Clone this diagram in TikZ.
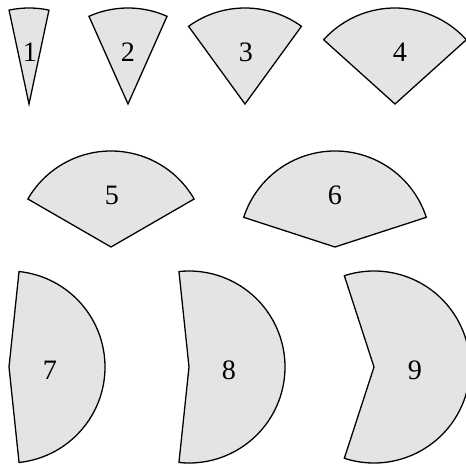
\documentclass[tikz,border=0pt]{standalone}
\usepackage{fontspec}
\setmainfont{Liberation Serif}
\usetikzlibrary{calc}

\definecolor{sectorgray}{HTML}{E4E4E4}

\begin{document}
\begin{tikzpicture}[x=0.03cm, y=0.03cm,
    sector/.style={draw=black, line width=1.1pt, fill=sectorgray, line join=miter},
    num/.style={font=\fontsize{24}{28}\selectfont, inner sep=0pt}]
    \useasboundingbox (0,0) rectangle (465,466);

    % sectors: apex x, apex y, axis direction, opening angle
    \foreach \k/\x/\y/\dir/\ang/\lx/\ly in {
        1/29/362/90/24/30/414,
        2/128/362/90/48/128/414,
        3/245/362/90/72/246/414,
        4/395/362/90/96/400/414,
        5/111/219/90/120/112/271,
        6/335/219/90/144/335/271,
        7/9/99/0/168/50/96,
        8/189/99/0/192/229/96,
        9/374/99/0/216/415/96}
    {
        \pgfmathsetmacro\sa{\dir-\ang/2}
        \pgfmathsetmacro\ea{\dir+\ang/2}
        \draw [sector] (\x,\y) -- ++(\sa:96)
            arc[start angle=\sa, end angle=\ea, radius=96] -- cycle;
        \node [num] (n\k) at (\lx,\ly) {\k};
    }
\end{tikzpicture}
\end{document}
